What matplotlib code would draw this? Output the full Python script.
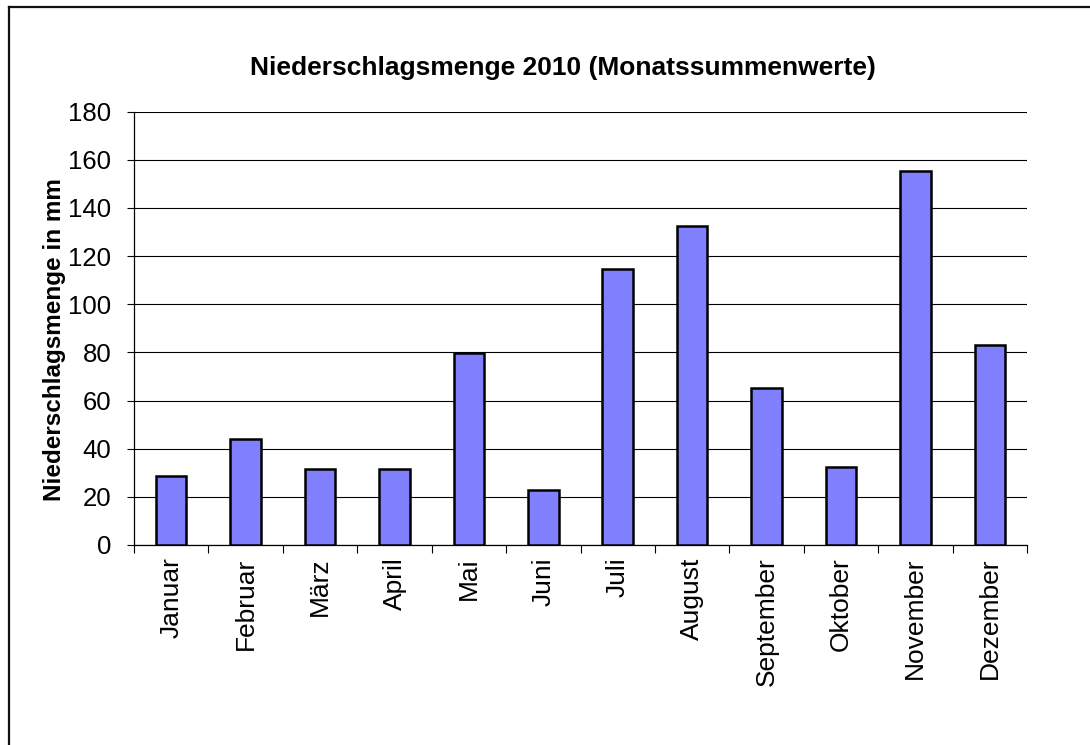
import matplotlib
matplotlib.use("Agg")
import matplotlib.pyplot as plt
from matplotlib.lines import Line2D
import numpy as np

months = ["Januar", "Februar", "März", "April", "Mai", "Juni", "Juli",
          "August", "September", "Oktober", "November", "Dezember"]
precip_mm = [28.7, 43.9, 31.4, 31.4, 79.9, 22.8, 114.5, 132.5, 65.1, 32.3, 155.5, 83.1]
y_ticks = [0, 20, 40, 60, 80, 100, 120, 140, 160, 180]

plt.rcParams['font.family'] = ['Liberation Sans', 'DejaVu Sans']

W, H = 1090, 745
fig = plt.figure(figsize=(W / 100, H / 100), dpi=100)
fig.patch.set_facecolor('white')

ax = fig.add_axes([134 / W, 1 - 545 / H, (1027 - 134) / W, (545 - 111.7) / H])
x = np.arange(len(months))
ax.bar(x, precip_mm, width=0.41, color='#8080FF', edgecolor='black', linewidth=1.8, zorder=3)

ax.set_xlim(-0.5, len(months) - 0.5)
ax.set_ylim(0, 180)
ax.set_yticks(y_ticks)
ax.set_yticklabels([str(v) for v in y_ticks], fontsize=18.5)
ax.yaxis.grid(True, color='black', linewidth=0.8, zorder=0)
ax.set_axisbelow(True)

ax.set_xticks(x)
ax.set_xticklabels(months, rotation=90, fontsize=19, va='top', ha='center')
ax.set_xticks(np.arange(-0.5, len(months), 1.0), minor=True)
ax.tick_params(axis='x', which='major', length=0, pad=9)
ax.tick_params(axis='x', which='minor', length=6, width=0.8, direction='out', color='black')
ax.tick_params(axis='y', which='major', length=5.3, width=0.8, direction='out', pad=11, color='black')

for s in ['top', 'right']:
    ax.spines[s].set_visible(False)
ax.spines['left'].set_linewidth(0.9)
ax.spines['bottom'].set_linewidth(0.9)

fig.text(562.5 / W, 1 - 68 / H, "Niederschlagsmenge 2010 (Monatssummenwerte)",
         ha='center', va='center', fontsize=19, fontweight='bold')
fig.text(55 / W, 1 - 340 / H, "Niederschlagsmenge in mm", rotation=90,
         ha='center', va='center', fontsize=17.5, fontweight='bold')

# outer chart-area border (top and left visible)
fig.add_artist(Line2D([9 / W, 9 / W], [-0.05, 1 - 7 / H], transform=fig.transFigure,
                      color='#111111', linewidth=1.6))
fig.add_artist(Line2D([9 / W, 1.05], [1 - 7 / H, 1 - 7 / H], transform=fig.transFigure,
                      color='#111111', linewidth=1.6))

fig.savefig("out.png", dpi=100)
